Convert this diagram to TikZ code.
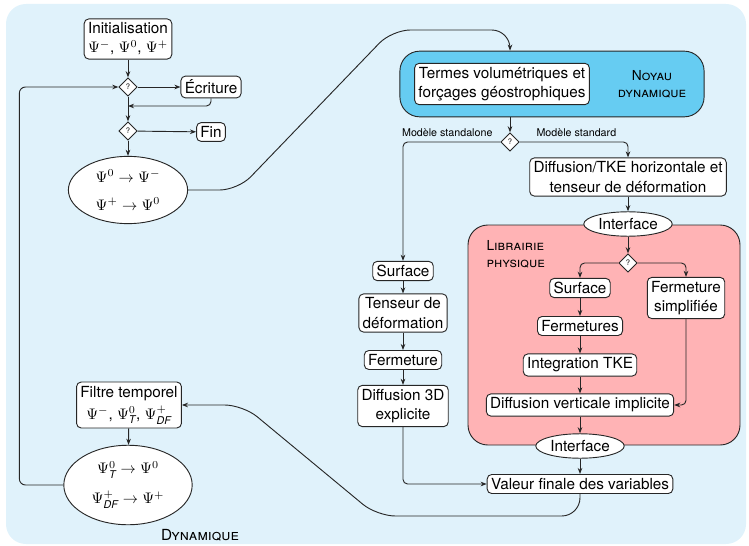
\documentclass[tikz,border=0pt]{standalone}
\usepackage{fontspec}
\setmainfont{TeX Gyre Heros}
\usepackage{amsmath}
\usetikzlibrary{positioning,shapes.geometric,arrows.meta,fit}
\definecolor{fondbleu}{HTML}{E0F2FB}
\definecolor{noyaubleu}{HTML}{66CCF2}
\definecolor{physrose}{HTML}{FFB3B5}

\begin{document}
\begin{tikzpicture}
            [x=0.023cm, y=-0.023cm, font=\fontsize{10}{12.5}\selectfont,
            >={Stealth[length=4pt,width=3pt]}, line width=0.6pt,
            bloc/.style={draw=black!85, fill=white, rounded corners=3pt, align=center, inner sep=2.5pt},
            test/.style={draw=black!85, fill=white, diamond, inner sep=0.5pt, minimum width=12pt, minimum height=12pt, font=\tiny},
            etat/.style={draw=black!85, fill=white, ellipse, align=center, inner sep=1pt},
            lien/.style={->, draw=black!85},
            choix/.style={font=\scriptsize}]
            % fond et cadre
            \useasboundingbox (0,0) rectangle (749,545);
            \fill [fondbleu, rounded corners=13pt] (6,4) rectangle (746,544);
            % boucle temporelle
            \node [bloc] (init) at (128,39) {Initialisation\\$\Psi^-$, $\Psi^0$, $\Psi^+$};
            \node [test] (q1) at (128,87) {?};
            \node [bloc] (ecriture) at (211,87) {Écriture};
            \node [test] (q2) at (128,131) {?};
            \node [bloc] (fin) at (211,132) {Fin};
            \node [etat, minimum width=78pt, minimum height=44pt] (echange) at (128,190)
                {$\Psi^0\rightarrow\Psi^-$\\[6pt]$\Psi^+\rightarrow\Psi^0$};
            \node [bloc] (filtre) at (129,405)
                {Filtre temporel\\[2pt]$\Psi^-$, $\Psi^0_{\textit{T}}$, $\Psi^+_{\textit{DF}}$};
            \node [etat, minimum width=84pt, minimum height=52pt] (bascule) at (128,485)
                {$\Psi^0_{\textit{T}}\rightarrow\Psi^0$\\[7pt]$\Psi^+_{\textit{DF}}\rightarrow\Psi^+$};
            \node (dynlbl) at (200,535) {\textsc{Dynamique}};
            % noyau dynamique
            \node [draw=black!85, fill=noyaubleu, rounded corners=13pt, minimum width=199pt, minimum height=43pt] (noyau) at (552,84) {};
            \node [bloc] (termes) at (502,84) {Termes volumétriques et\\forçages géostrophiques};
            \node [font=\small, align=center] (noyaulbl) at (652,84) {\textsc{Noyau}\\\textsc{dynamique}};
            \node [test] (q3) at (510,142) {?};
            \node [choix, anchor=base east] (standalone) at (498,137) {Modèle standalone};
            \node [choix, anchor=base west] (standard) at (531,137) {Modèle standard};
            \node [bloc] (difftke) at (628,177) {Diffusion/TKE horizontale et\\tenseur de déformation};
            % librairie physique
            \coordinate (physA) at (468,225);
            \coordinate (physB) at (740,445);
            \node [fit=(physA)(physB), inner sep=0pt, draw=black!85, fill=physrose, rounded corners=13pt] (physique) {};
            \node [font=\small, align=left, anchor=north west] (physlbl) at (481,235) {\textsc{Librairie}\\\textsc{physique}};
            \node [etat, minimum height=16pt] (iface1) at (628,224) {Interface};
            \node [test] (q4) at (628,263) {?};
            \node [bloc] (surfP) at (580,288) {Surface};
            \node [bloc] (fermP) at (580,326) {Fermetures};
            \node [bloc] (integ) at (580,365) {Integration TKE};
            \node [bloc] (diffV) at (580,405) {Diffusion verticale implicite};
            \node [bloc] (fermS) at (686,298) {Fermeture\\simplifiée};
            \node [etat, minimum height=16pt] (iface2) at (580,446) {Interface};
            \node [bloc] (valeur) at (580,484) {Valeur finale des variables};
            % modele standalone
            \node [bloc] (surfL) at (403,271) {Surface};
            \node [bloc] (tenseur) at (403,313) {Tenseur de\\déformation};
            \node [bloc] (fermL) at (403,360) {Fermeture};
            \node [bloc] (diff3D) at (403,406) {Diffusion 3D\\explicite};
            % liens
            \coordinate (retour) at (128,106);
            \draw [lien] (init) -- (q1);
            \draw [lien] (q1) -- (ecriture);
            \draw [lien, rounded corners=3pt] (ecriture.south) |- (retour);
            \draw [lien] (q1) -- (q2);
            \draw [lien] (q2) -- (fin);
            \draw [lien] (q2) -- (echange);
            \draw [lien, rounded corners=12pt] (echange.east) -- (238,190) -- (392,30) -| (noyau.north -| q3);
            \draw [lien] (q3 |- noyau.south) -- (q3);
            \draw [lien, rounded corners=3pt] (q3) -| (surfL);
            \draw [lien, rounded corners=3pt] (q3) -| (difftke);
            \draw [lien] (difftke) -- (iface1);
            \draw [lien] (iface1) -- (q4);
            \draw [lien, rounded corners=3pt] (q4) -| (surfP);
            \draw [lien, rounded corners=3pt] (q4) -| (fermS);
            \draw [lien] (surfP) -- (fermP);
            \draw [lien] (fermP) -- (integ);
            \draw [lien] (integ) -- (diffV);
            \draw [lien, rounded corners=3pt] (fermS) |- (diffV);
            \draw [lien] (diffV) -- (iface2);
            \draw [lien] (iface2) -- (valeur);
            \draw [lien] (surfL) -- (tenseur);
            \draw [lien] (tenseur) -- (fermL);
            \draw [lien] (fermL) -- (diff3D);
            \draw [lien, rounded corners=3pt] (diff3D) |- (valeur);
            \draw [lien, rounded corners=12pt] (valeur.south) -- (580,516) -- (377,516) -- (243,405) -- (filtre.east);
            \draw [lien] (filtre) -- (bascule);
            \draw [lien, rounded corners=4pt] (bascule.west) -- ++(-44,0) |- (q1);
\end{tikzpicture}
\end{document}
